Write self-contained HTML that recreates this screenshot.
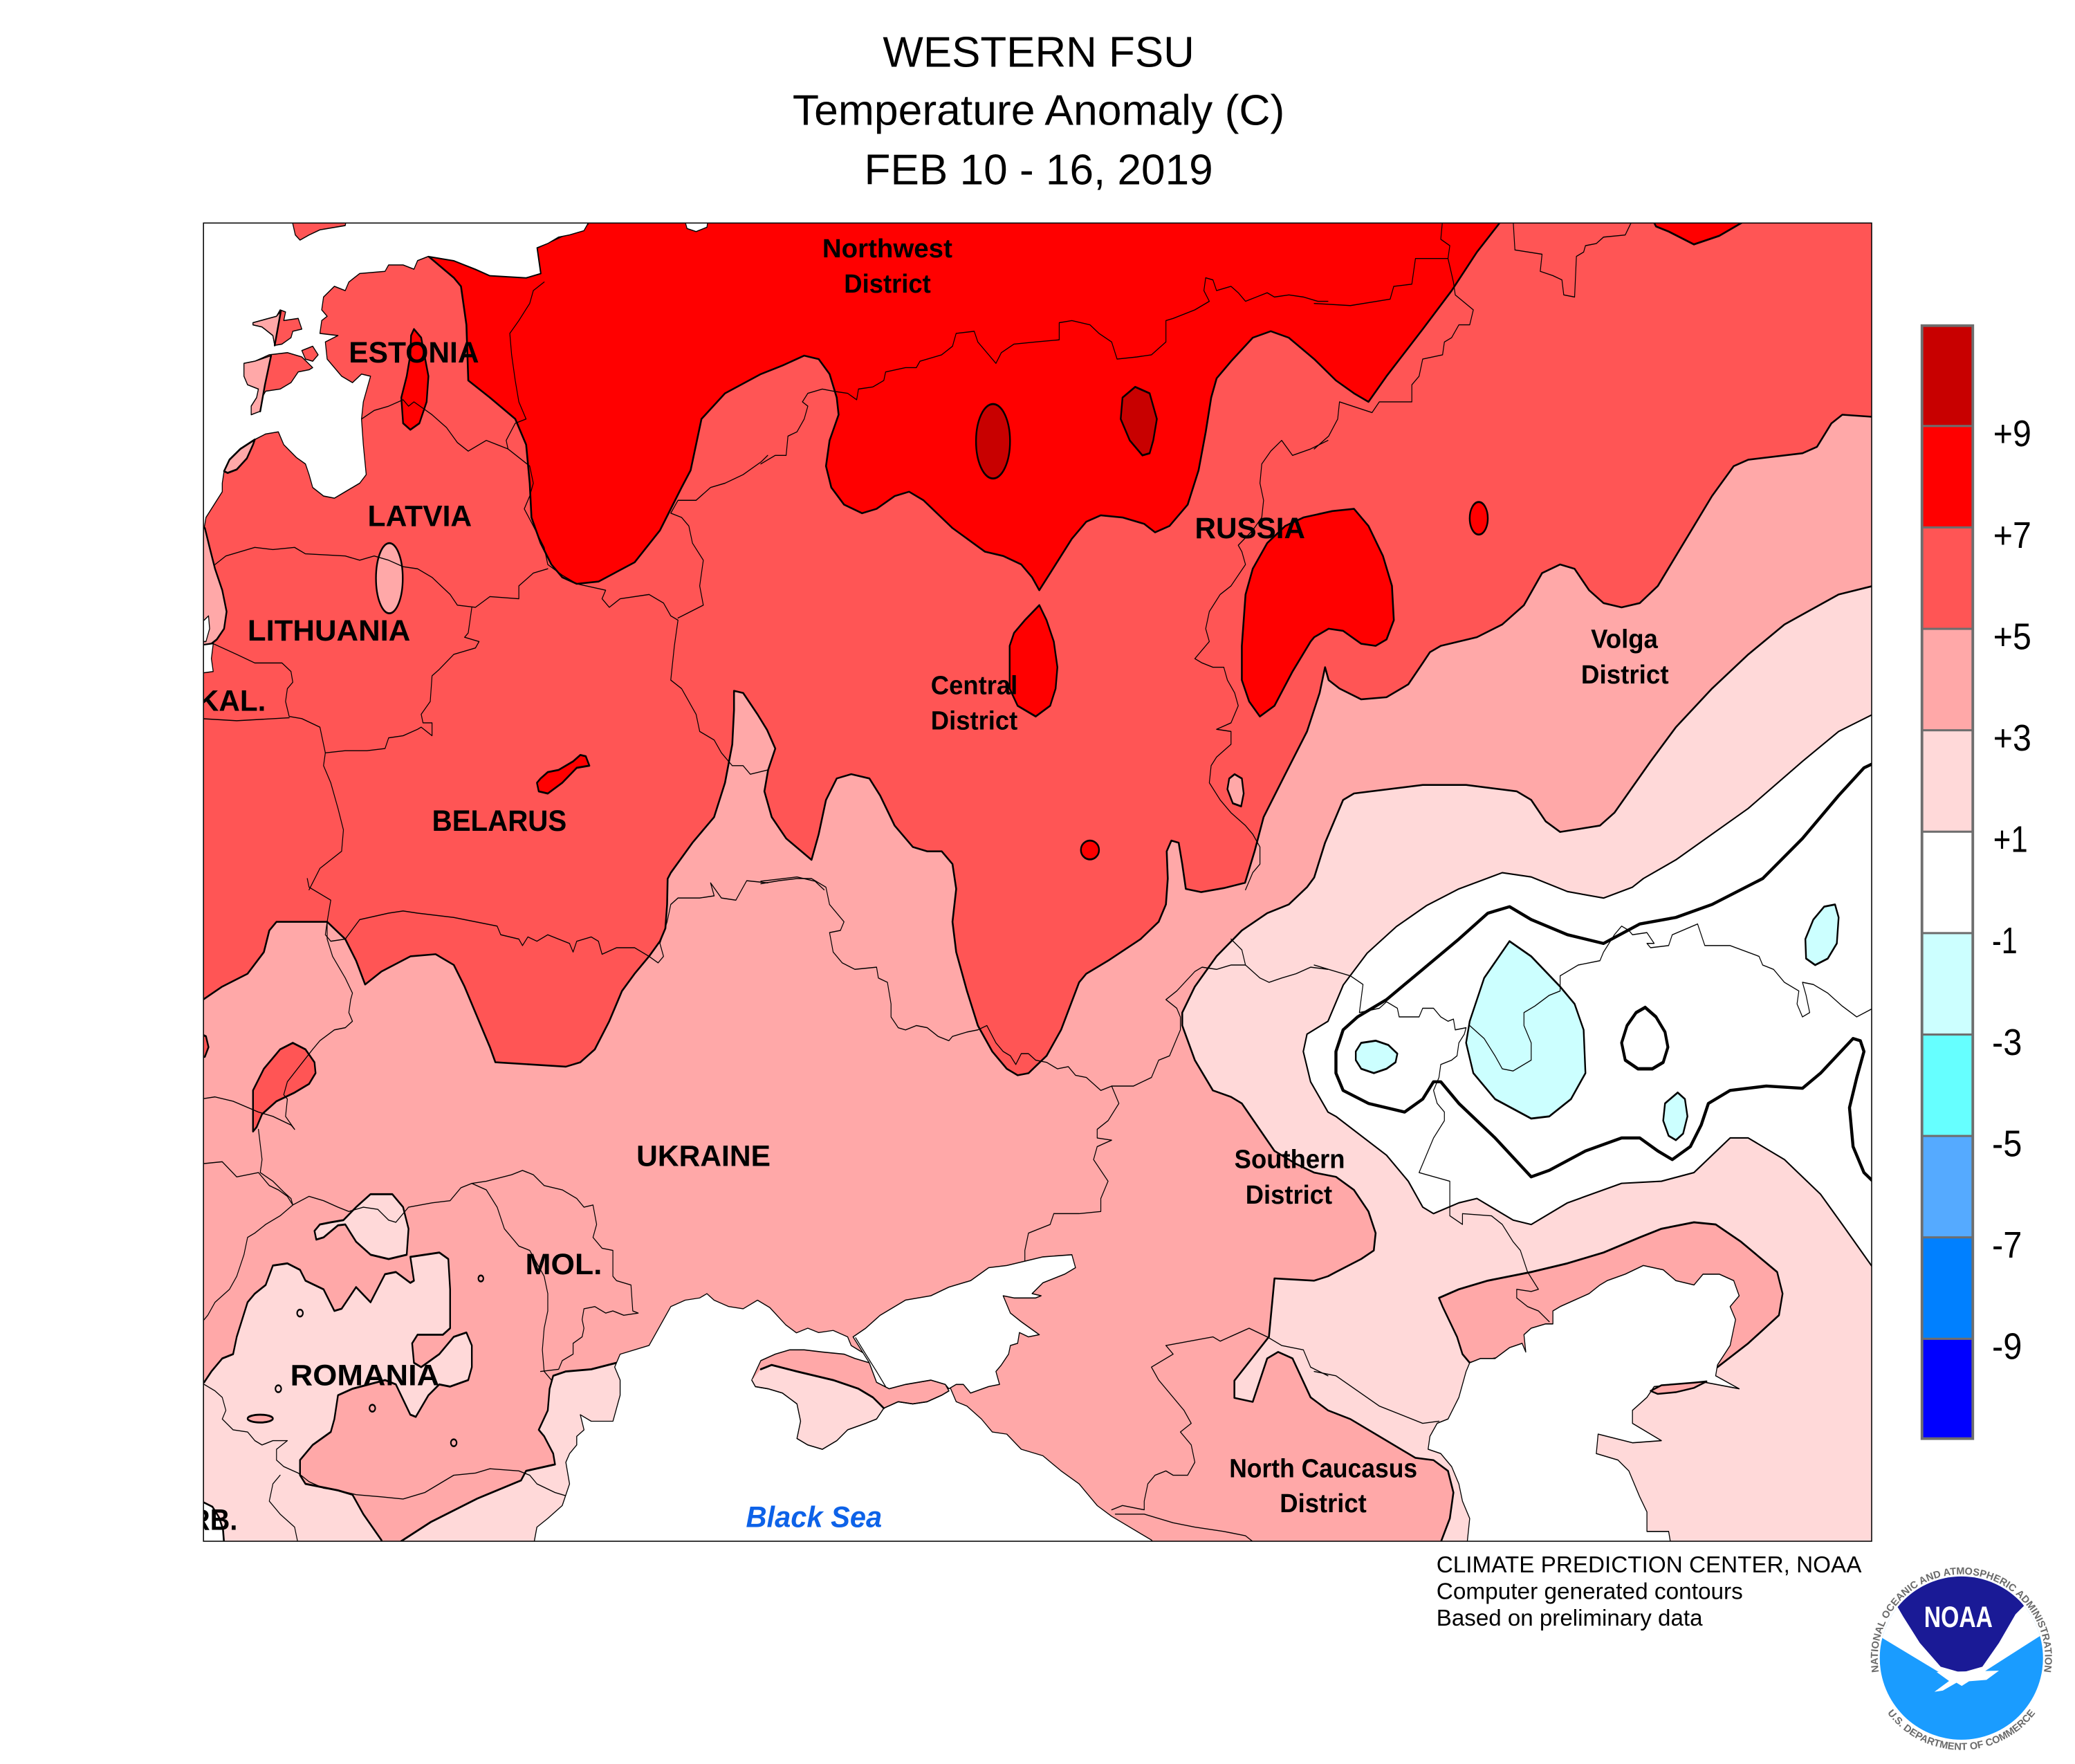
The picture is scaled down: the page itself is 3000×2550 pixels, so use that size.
<!DOCTYPE html>
<html><head><meta charset="utf-8"><title>WESTERN FSU Temperature Anomaly</title>
<style>
html,body{margin:0;padding:0;background:#fff;}
svg{display:block;}
text{font-family:"Liberation Sans",Arial,sans-serif;}
.lb{font-weight:bold;fill:#000;}
</style></head><body>
<svg xmlns="http://www.w3.org/2000/svg" width="3000" height="2550" viewBox="0 0 1563.3 1328.8" preserveAspectRatio="none">
<defs>
<clipPath id="mc"><rect x="153.3" y="168" width="1256.8" height="993"/></clipPath>
<clipPath id="disc"><circle cx="1477.7" cy="1249" r="61.5"/></clipPath>
<path id="arcTop" d="M1418.5,1270.5 A63,63 0 1 1 1536.9,1270.5"/>
<path id="arcBot" d="M1415.7,1280.5 A69.8,69.8 0 0 0 1539.7,1280.5"/>
</defs>
<rect x="0" y="0" width="1563.3" height="1328.8" fill="#fff"/>

<!-- Title -->
<g font-size="32.2" text-anchor="middle" fill="#000">
<text x="782.5" y="50.4" textLength="234.7" lengthAdjust="spacingAndGlyphs">WESTERN FSU</text>
<text x="782.5" y="94" textLength="370.7" lengthAdjust="spacingAndGlyphs">Temperature Anomaly (C)</text>
<text x="782.5" y="138.8" textLength="262.7" lengthAdjust="spacingAndGlyphs">FEB 10 - 16, 2019</text>
</g>

<g clip-path="url(#mc)" stroke-linejoin="round" stroke-linecap="round">
<!-- base 3-5 -->
<rect x="150" y="160" width="1270" height="1010" fill="#ffa8a8"/>

<!-- 5-7 region -->
<path fill="#ff5555" stroke="#000" stroke-width="1.35" d="M153,753 L167.4,743.2 L186.5,733.5 L198.8,717.2 L202.9,700.9 L208.3,694.4 L246.5,694.4 L260.1,707.4 L268.3,723.7 L275.1,741.6 L287.4,731.8 L309.2,720.4 L328.2,718.8 L341.9,726.9 L350,743.2 L358.2,762.8 L369.1,788.8 L373.2,800.2 L426.3,803.5 L437.2,800.2 L448.1,790.5 L459,769.3 L468.6,746.5 L478.1,733.5 L489,720.4 L497.2,709 L501.3,699.3 L502.6,681.3 L503,662 L505.4,657.4 L521.7,634.8 L538,615.5 L546.2,589.7 L551.7,560.7 L553,534.9 L553,520.4 L559.9,522 L570.7,538.1 L578,550 L584.1,563.9 L578.7,580 L575.9,596.1 L581.4,615.5 L592.3,631.6 L611.4,647.7 L616.8,628.4 L622.3,602.6 L630.4,586.4 L641.3,583.2 L655,586.4 L663.1,599.3 L674,621.9 L687.7,638 L698.5,641.3 L709.5,641.3 L717.6,650.9 L720.4,669.6 L717.6,694.4 L720.4,717.2 L728.5,746.5 L736.7,772.5 L747.6,792.1 L758.5,805.1 L766.7,810 L774.9,808.4 L788.5,795.3 L799.4,775.8 L813,740 L818.4,733.5 L834.8,723.7 L859.3,707.4 L872.9,694.4 L878.4,681.3 L879.8,661.8 L879,641.3 L882.5,633.2 L888,634.8 L890.7,650.9 L893.4,669.6 L905,672 L922,669 L938,665 L945.2,641.3 L952,615.5 L968.3,583.2 L984.7,551 L994.2,522 L998.3,502.6 L1001,512.3 L1009.2,518.7 L1025.5,526.8 L1044.6,525.2 L1061,515.5 L1071.9,499.4 L1077.3,491.3 L1085.5,486.5 L1112.7,480 L1131.8,470.4 L1148.1,455.9 L1161.8,431.7 L1175.4,425.2 L1186.3,428.5 L1197.2,444.6 L1208.1,454.3 L1221.7,457.5 L1235.4,454.3 L1249,441.4 L1262.6,418.8 L1289.8,373.7 L1306.2,351.1 L1317.1,346.3 L1358,341.4 L1368.9,336.6 L1379.8,318.9 L1388,312.4 L1411,314 L1418,314 L1418,162 L148,162 L148,753 Z"/>

<!-- 7-9 main -->
<path fill="#ff0000" stroke="#000" stroke-width="1.35" d="M442.7,162 L1133,162 L1129.1,168.9 L1112.7,189.9 L1093.7,218.9 L1071.9,247.9 L1044.6,283.4 L1031,302.7 L1020.1,296.3 L1006.5,286.6 L990.1,270.5 L971,254.4 L957.4,249.5 L943.8,254.4 L927.5,272.1 L916.6,285 L912.5,299.5 L908.4,325.3 L903,354.3 L894.8,380.1 L881.1,396.2 L870.2,401 L862,394.6 L845.7,389.8 L829.3,388.2 L818.4,393 L807.5,405.9 L791.2,431.7 L783,444.6 L777.6,434.9 L769.4,425.2 L755.8,418.8 L742.1,415.6 L717.6,397.8 L695.8,376.9 L684.9,370.4 L674,373.7 L660.4,383.3 L649.5,386.6 L635.9,380.1 L626.3,367.2 L622.3,351.1 L625,331.8 L631.8,312.4 L630.4,299.5 L625,281.8 L616.8,270.5 L605.9,267.9 L589.6,275.3 L573.2,281.8 L546.2,296.3 L528.5,315.6 L520.3,354.3 L513.5,367.2 L497.2,399.5 L478.1,423.6 L450.9,438.1 L434.5,439.8 L423.6,434.9 L415.4,425.2 L407.3,409.1 L400.4,389.8 L399.1,364 L396.4,335 L388.2,315.6 L369.1,299.5 L352.8,286.6 L351.4,244.7 L347.3,215.7 L341.9,209.2 L322.8,193.1 L341.9,196.3 L358.2,202.8 L369.1,207.6 L396.4,209.2 L407.3,206 L404.5,186.7 L442.7,168.9 Z"/>

<!-- 7-9 RUSSIA blob -->
<path fill="#ff0000" stroke="#000" stroke-width="1.35" d="M1020.1,383.3 L1031,396.2 L1041.9,418.8 L1048.7,441.4 L1050.1,467.2 L1044.6,481.7 L1036.4,486.5 L1025.5,484.9 L1011.9,475.2 L1001,473.6 L990.1,480 L987.4,483.3 L973.8,505.8 L960.2,531.6 L949.2,539.7 L941.1,528.4 L935.6,512.3 L935.6,486.5 L938.4,447.8 L943.8,428.5 L954.7,409.1 L968.3,396.2 L982,389.8 L1003.7,385 Z"/>

<!-- tile 4 blobs -->
<g transform="translate(573.2,164.1) scale(0.2725,0.3224)" stroke="#000" stroke-width="4.6">
<path fill="#ff0000" d="M770,905 L790,940 L810,990 L820,1050 L815,1100 L800,1140 L760,1165 L710,1140 L688,1100 L688,1000 L700,970 L730,940 Z"/>
<ellipse cx="910" cy="1477" rx="25" ry="22" fill="#ff0000"/>
<ellipse cx="642" cy="522" rx="47" ry="87" fill="#c80000"/>
<path fill="#c80000" d="M1035,395 L1075,410 L1095,470 L1085,520 L1075,550 L1055,555 L1020,520 L995,470 L1000,420 Z"/>
<path fill="#ffa8a8" d="M1310,1300 L1330,1310 L1335,1345 L1328,1375 L1305,1368 L1290,1335 L1295,1310 Z"/>
</g>
<!-- tile 5 blobs -->
<g transform="translate(990.1,164.1) scale(0.2725,0.3224)" stroke="#000" stroke-width="4.6">
<ellipse cx="455" cy="702" rx="25" ry="38" fill="#ff0000"/>
<path fill="#ff0000" d="M930,-5 L945,20 L980,32 L1050,62 L1120,42 L1185,10 L1195,-5 Z"/>
</g>
<!-- tile 3 blobs -->
<g transform="translate(151.1,164.1) scale(0.2725,0.3224)" stroke="#000" stroke-width="4.6">
<path fill="#ff0000" d="M590,260 L610,280 L630,370 L625,430 L605,480 L580,495 L560,480 L555,420 L570,370 L580,320 L582,275 Z"/>
<path fill="#ff0000" d="M940,1310 L960,1295 L990,1290 L1030,1270 L1050,1255 L1065,1258 L1075,1280 L1040,1285 L1000,1320 L960,1345 L935,1340 L930,1320 Z"/>
<ellipse cx="522" cy="842" rx="37" ry="82" fill="#ffa8a8"/>
<path fill="#ffa8a8" d="M-5,715 L12,725 L25,770 L40,820 L60,870 L72,920 L65,960 L45,985 L30,995 L-5,1000 Z"/>
</g>

<!-- SE light pink (1-3) -->
<path fill="#ffd9d9" stroke="#000" stroke-width="1.35" d="M1418,441.4 L1411,441.4 L1385.2,447.8 L1344.4,470.4 L1317.1,493 L1289.8,518.7 L1262.6,547.8 L1243.5,573.6 L1216.3,612.2 L1205.4,621.9 L1175.4,626.7 L1164.5,618.7 L1153.6,602.6 L1142.7,596.1 L1104.6,591.3 L1071.9,591.3 L1020.1,597.7 L1011.9,602.6 L998.3,634.8 L990.1,661 L984.7,668.3 L971,681.3 L954.7,687.9 L935.6,700.9 L916.5,720.4 L900.2,743.2 L890.7,762.8 L890.7,772.5 L900.2,798.6 L913.8,821.4 L927.5,826.3 L935.6,831.2 L960.2,867 L976.5,876.8 L990.1,883.3 L1006.5,886.5 L1020,896.3 L1031,912.6 L1036.4,928.9 L1035,942 L1025.5,948.4 L1006.5,958.2 L1000.5,961.4 L990.1,964.7 L960.2,963 L956,1007 L930,1040 L930,1053 L943.8,1056 L954.7,1023.3 L962.9,1018.4 L973.8,1023.3 L987.4,1052.6 L1000.5,1062.4 L1017.4,1069 L1039.2,1082 L1066.4,1098.2 L1080,1099.9 L1090.9,1108 L1095,1124.3 L1092.3,1143.8 L1085.5,1161.7 L1085,1168 L1418,1168 Z"/>

<!-- white (-1..+1) region -->
<path fill="#ffffff" stroke="#000" stroke-width="1.1" d="M1418,536 L1411,538.1 L1385.2,551 L1358,573.5 L1317.1,609 L1262.6,647.7 L1238.1,661.8 L1229.9,668.3 L1208.1,676.5 L1180.9,671.6 L1153.6,660.6 L1131.8,657.4 L1099.1,669.6 L1075,682 L1052,698 L1030,718 L1012,742 L1000.5,769.3 L984.7,779 L981.9,792.1 L987.4,814.9 L1000.5,837.7 L1006.5,841 L1044.6,870.2 L1061,889.8 L1071.9,909.3 L1080,914.2 L1099.1,906.1 L1112.7,902.8 L1140,919.1 L1153.6,922.4 L1180.9,906.1 L1221.7,891.4 L1251.7,889.8 L1276.2,883.3 L1303.5,857.2 L1317.1,857.2 L1344.4,873.5 L1371.6,899.6 L1388,922.4 L1411,954.9 L1418,958 Z"/>

<!-- zero contour thick -->
<path fill="none" stroke="#000" stroke-width="2.3" d="M1418,572 L1411,575.2 L1404.3,578.4 L1385.2,599.3 L1358,631.6 L1328,661.8 L1289.9,681.3 L1262.6,691.1 L1235.4,696 L1208.1,710.7 L1180.9,704.1 L1153.6,692.7 L1137.3,683 L1120.9,687.9 L1099.1,707.4 L1071.9,730.2 L1044.6,753 L1022.8,766 L1011.9,775.8 L1006.5,792.1 L1006.5,808.4 L1011.9,821.4 L1031,831.2 L1058.2,837.7 L1071.9,827.9 L1080,814.9 L1085.5,814.9 L1099.1,831.2 L1126.4,857.2 L1153.6,886.5 L1167.2,881.6 L1194.5,867 L1221.7,857.2 L1235.4,857.2 L1249,867 L1259.9,873.5 L1273.5,863.7 L1281.7,847.4 L1287.1,831.2 L1303.5,821.4 L1330.7,818.1 L1358,819.8 L1371.6,808.4 L1396.1,782.3 L1401.6,784 L1404.3,792.1 L1398.9,811.6 L1393.4,834.4 L1396.1,863.7 L1404.3,883.3 L1411,889.8 L1418,893"/>

<!-- tile 8: cyan blobs, loop, Kalmykia -->
<g transform="translate(990.1,661.8) scale(0.2725,0.3257)" stroke="#000">
<path fill="#ccffff" stroke-width="4.6" d="M115,400 L130,380 L170,375 L205,385 L230,405 L225,425 L200,440 L165,450 L130,440 L115,420 Z"/>
<path fill="#ccffff" stroke-width="4.6" d="M540,145 L600,180 L680,250 L720,290 L745,350 L750,450 L710,510 L650,550 L600,555 L500,510 L440,450 L420,380 L430,330 L470,230 Z"/>
<path fill="#ccffff" stroke-width="4.6" d="M1005,495 L1025,510 L1032,550 L1020,590 L1000,605 L980,595 L965,560 L970,520 Z"/>
<path fill="#ccffff" stroke-width="4.6" d="M1440,60 L1450,90 L1445,150 L1420,185 L1385,200 L1360,185 L1358,140 L1380,95 L1410,65 Z"/>
<path fill="none" stroke-width="7.8" d="M915,298 L945,320 L970,355 L978,390 L965,425 L935,440 L895,440 L860,420 L850,380 L865,340 L890,310 Z"/>
<path fill="#ffa8a8" stroke-width="4.6" d="M430,1120 L410,1100 L395,1060 L375,1025 L355,990 L345,970 L400,950 L480,930 L600,910 L700,890 L800,865 L900,830 L960,810 L1050,795 L1110,800 L1180,840 L1280,910 L1295,960 L1285,1010 L1200,1075 L1115,1130 L1000,1120 L700,1100 L500,1110 Z"/>
</g>

<!-- tile 6: Romania etc -->
<g transform="translate(151.1,661.8) scale(0.2725,0.3257)" stroke="#000" stroke-width="4.6">
<path fill="#ffd9d9" d="M-10,1165 L10,1165 L30,1140 L60,1110 L90,1100 L100,1060 L130,980 L150,960 L180,940 L200,895 L240,890 L275,905 L290,930 L340,950 L370,1000 L390,995 L430,945 L470,980 L510,915 L540,910 L580,935 L590,930 L580,875 L660,865 L685,880 L690,950 L690,1040 L670,1055 L600,1055 L585,1075 L590,1120 L610,1130 L660,1100 L700,1060 L735,1050 L750,1080 L750,1130 L740,1160 L690,1175 L660,1170 L630,1195 L595,1245 L580,1240 L540,1170 L510,1160 L420,1180 L380,1195 L370,1250 L360,1280 L310,1310 L275,1345 L275,1380 L290,1400 L380,1415 L420,1425 L450,1470 L500,1530 L512,1560 L-10,1560 Z"/>
<path fill="#ffd9d9" d="M550,1560 L554,1533 L637,1488 L765,1434 L886,1392 L900,1370 L980,1355 L975,1330 L950,1290 L935,1275 L960,1230 L965,1180 L975,1150 L1010,1140 L1080,1135 L1150,1120 L1200,1100 L1240,1085 L1300,1060 L1300,1560 Z"/>
<path fill="#ffd9d9" d="M320,835 L315,815 L330,800 L360,795 L395,790 L430,760 L470,730 L530,730 L560,760 L575,810 L570,870 L520,880 L470,870 L430,840 L400,800 L380,802 L340,830 Z"/>
<ellipse cx="165" cy="1249" rx="35" ry="9" fill="#ffa8a8"/>
<g fill="none" stroke-width="4"><circle cx="275" cy="1005" r="8"/><circle cx="215" cy="1180" r="8"/><circle cx="475" cy="1225" r="8"/><circle cx="700" cy="1305" r="8"/><circle cx="775" cy="925" r="7"/></g>
<path fill="#ff5555" d="M145,585 L145,490 L175,440 L220,395 L255,380 L290,395 L315,425 L318,450 L300,475 L260,495 L210,515 L170,545 L155,575 Z"/>
<path fill="#ff5555" d="M-10,355 L15,365 L22,390 L12,412 L-10,415 Z"/>
</g>
<!-- white corner bottom-left -->
<path fill="#fff" stroke="#000" stroke-width="1.35" d="M150,1130 L160,1135 L165,1143 L168,1152 L169,1165 L150,1165 Z"/>

<!-- borders -->
<g fill="none" stroke="#000">
<g transform="translate(151.1,164.1) scale(0.2725,0.3224)" stroke-width="2.3">
<polyline points="445,470 480,450 520,440 560,425 575,440 590,430 640,460 680,490 710,525 740,545 790,520 820,530 850,540"/>
<polyline points="950,150 920,170 910,200 880,240 855,270 860,320 870,380 880,430 900,470 870,480 845,520 850,540 910,580 920,620 910,650 895,680 920,720 950,770 960,810 1000,835 1040,855 1120,870 1110,890 1130,910 1160,890 1240,880 1280,900 1300,930 1320,940 1310,1000 1300,1080 1330,1100 1350,1130 1370,1160 1380,1200 1420,1220 1440,1250 1470,1280 1500,1280 1520,1300 1568,1290"/>
<polyline points="40,810 70,790 150,770 200,775 260,770 290,785 400,790 440,800 480,790 520,800 560,815 600,820 640,840 690,880 710,905 760,910 800,885 880,890 880,860 920,830 960,820"/>
<polyline points="750,910 740,970 730,980 770,990 760,1005 700,1020 660,1055 640,1070 635,1130 610,1160 615,1180 640,1180 640,1210 610,1190 600,1195 560,1210 520,1215 510,1240 460,1245 400,1245 345,1250"/>
<polyline points="35,995 100,1020 150,1040 225,1040 250,1060 255,1085 240,1100 235,1130 245,1165 280,1170 330,1190 340,1230 345,1250"/>
<polyline points="0,1170 100,1175 245,1168"/>
<polyline points="345,1250 340,1280 360,1320 380,1380 395,1430 390,1480 330,1520 300,1570"/>
<polyline points="1568,555 1550,570 1500,600 1450,620 1410,630 1370,660 1320,660 1300,690 1330,700 1350,720 1360,760 1390,800 1380,860 1390,905 1320,935"/>
</g>
<g transform="translate(573.2,164.1) scale(0.2725,0.3224)" stroke-width="2.3">
<polyline points="0,575 40,555 70,555 75,510 100,500 120,470 130,440 115,430 130,410 170,400 200,405 240,410 265,425 270,400 310,395 340,380 345,360 400,350 430,350 440,335 500,320 530,300 540,270 590,265 600,290 650,340 665,315 700,295 760,290 825,285 825,245 860,240 910,250 935,270 970,290 985,330 1040,325 1080,320 1120,290 1120,240 1140,235 1200,215 1240,195 1225,170 1230,140 1250,145 1260,170 1300,160 1320,175 1340,195 1370,185 1400,175 1420,185 1460,180 1500,185 1540,195 1568,195"/>
<polyline points="1568,520 1520,540 1470,555 1440,520 1410,545 1385,575 1380,620 1390,660 1385,700 1360,730 1320,765 1330,780 1340,810 1300,860 1270,880 1240,920 1230,960 1240,990 1220,1010 1200,1030 1220,1040 1250,1050 1280,1050 1290,1080 1310,1110 1320,1140 1300,1180 1260,1195 1300,1200 1300,1230 1260,1260 1245,1280 1240,1320 1270,1360 1300,1390 1340,1420 1360,1440 1380,1470 1380,1510 1360,1530 1340,1570"/>
<polyline points="0,1550 50,1545 100,1540 150,1550 175,1570"/>
</g>
<g transform="translate(990.1,164.1) scale(0.2725,0.3224)" stroke-width="2.3">
<polyline points="0,200 100,205 210,190 220,160 270,155 280,95 370,95 375,65 350,50 355,5"/>
<polyline points="370,95 385,150 390,180 440,215 430,250 400,250 380,280 360,290 355,320 300,330 290,370 270,390 270,430 180,430 160,455 70,430 65,470 40,510 0,540"/>
<polyline points="550,5 555,75 630,85 625,125 660,135 685,145 690,180 720,185 725,90 745,80 750,65 780,60 800,45 860,40 880,5"/>
</g>
<g transform="translate(151.1,661.8) scale(0.2725,0.3257)" stroke-width="2.3">
<polyline points="350,100 345,130 360,145 400,140 440,95 520,80 560,75 600,80 700,90 760,100 820,110 830,130 880,140 890,155 905,135 930,145 960,130 990,140 1020,150 1030,170 1040,145 1080,135 1100,145 1110,175 1150,160 1200,160 1240,180 1265,195 1280,180 1270,150 1290,100 1300,60 1320,45 1380,45 1420,40 1410,10 1440,45 1480,50 1500,20 1510,5 1568,10"/>
<polyline points="295,0 300,20 360,50 350,100 350,140 365,180 400,230 420,265 415,280 410,310 420,330 400,345 370,350 330,375 310,395 240,470 230,500 240,510 235,550 260,580"/>
<polyline points="0,510 40,505 90,515 160,540 200,550 250,570 260,580"/>
<polyline points="160,580 170,650 165,680 200,700 230,725 250,740 255,755 300,735 340,745 380,760 410,770 450,760 490,765 520,790 540,795 575,760 640,750 690,745 720,715 750,705 790,700 860,685 890,675 920,685 950,710 1000,720 1040,740 1060,760 1085,755 1095,800 1085,830 1110,855 1140,860 1140,920 1150,930 1190,940 1195,1000 1210,1005 1170,1010 1140,1000 1120,1005 1090,990 1060,995 1055,1020 1060,1040 1055,1060 1030,1075 1030,1100 1000,1115 990,1135 940,1140"/>
<polyline points="750,705 790,720 820,760 840,810 880,850 910,860 950,920 960,960 960,1000 950,1040 945,1090 950,1140 970,1160"/>
<polyline points="0,660 60,655 100,690 160,680 190,710 215,720 240,735 255,755 220,780 180,800 150,820 130,830 120,870 100,920 80,950 40,980 20,1010 0,1030"/>
<polyline points="0,1165 40,1185 60,1200 70,1230 60,1250 90,1275 130,1280 150,1300 170,1310 200,1300 240,1300 210,1320 210,1345 230,1360 270,1375 300,1395 340,1410 380,1415 430,1425 500,1430 560,1435 620,1420 660,1400 700,1380 760,1375 800,1365 880,1370 910,1380 930,1400 980,1420 1020,1430"/>
<polyline points="220,1380 200,1400 190,1440 220,1470 260,1500 270,1540"/>
</g>
<g transform="translate(573.2,661.8) scale(0.2725,0.3257)" stroke-width="2.3">
<polyline points="0,12 50,5 100,0 140,0 180,20 190,60 230,100 220,120 190,125 200,170 225,195 260,210 320,205 325,230 350,240 360,290 360,320 380,345 400,350 430,340 460,345 490,365 520,375 530,365 570,355 600,350 625,340 650,380 670,400 690,410 705,430 720,405 740,405 760,420 790,425 820,440 850,435 870,455 900,460 940,490 970,480 1030,480 1080,460 1100,420 1130,410 1145,380 1160,350 1160,320 1150,300 1120,280 1150,260 1200,215 1220,205 1260,210 1300,200 1340,200 1380,230 1405,240 1440,230 1480,220 1520,205 1568,210"/>
<polyline points="1300,140 1330,165 1340,200"/>
<polyline points="970,480 990,520 960,560 930,580 930,600 970,605 930,620 920,650 960,700 940,740 940,770 880,775 810,775 800,800 740,820 730,860 730,890"/>
<polyline points="1120,1080 1250,1060 1270,1070 1350,1040 1400,1060 1440,1080 1500,1090 1520,1130 1568,1150"/>
<polyline points="1120,1080 1140,1100 1080,1130 1100,1160 1140,1200 1170,1230 1190,1260 1160,1280 1190,1310 1200,1350 1180,1380 1140,1380 1120,1370 1090,1380 1070,1400 1060,1440 1060,1460 1000,1450 970,1460"/>
<polyline points="980,1470 1060,1470 1100,1480 1140,1490 1200,1500 1280,1510 1340,1520 1370,1540"/>
</g>
<g transform="translate(990.1,661.8) scale(0.2725,0.3257)" stroke-width="2.3">
<polyline points="0,200 40,210 100,225 135,245 125,310 180,300 200,285 230,300 235,320 290,320 300,300 330,300 350,320 370,330 385,325 390,350 420,345 415,360 400,380 395,410 380,420 350,430 345,460 330,490 340,520 360,540 360,560 330,600 290,680 375,700 375,780 410,800 410,775 490,780 520,800 550,840 570,860 590,910 620,950 600,955 560,950 560,970 590,990 620,1000 650,1025"/>
<polyline points="680,225 730,200 790,190 800,170 830,130 850,110 870,120 880,130 920,125 940,150 920,150 930,160 980,155 990,130 1060,105 1080,155 1150,155 1230,180 1240,200 1270,210 1300,240 1340,260 1335,290 1350,320 1370,310 1360,270 1350,240 1380,245 1420,265 1460,295 1500,320 1545,300"/>
<polyline points="430,340 470,370 500,410 520,440 550,445 600,420 600,380 580,340 580,310 610,295 650,270 680,260 680,225"/>
<polyline points="0,1140 60,1150 180,1220 300,1260 345,1255"/>
</g>
</g>

<!-- Baltic sea and islands -->
<g transform="translate(151.1,164.1) scale(0.2725,0.3224)" stroke="#000">
<path fill="#fff" stroke-width="2.5" d="M-10,-5 L1075,-5 L1070,15 L1060,30 L1020,40 L990,45 L960,60 L930,70 L940,130 L900,140 L800,135 L760,120 L700,100 L630,90 L600,100 L590,120 L560,110 L520,110 L510,125 L440,130 L410,150 L400,170 L370,160 L340,185 L335,215 L350,230 L335,240 L330,270 L380,275 L345,290 L350,330 L390,370 L420,385 L445,365 L470,370 L460,400 L450,430 L445,470 L450,530 L458,600 L440,620 L400,640 L370,655 L340,650 L310,630 L300,600 L290,575 L265,560 L230,530 L215,500 L180,505 L150,518 L110,540 L80,565 L65,592 L60,620 L60,640 L30,680 L15,700 L10,725 L-10,725 Z"/>
<path fill="#fff" stroke-width="2.5" d="M-10,940 L10,940 L22,930 L25,960 L15,990 L-10,990 Z"/>
<path fill="#fff" stroke-width="2.5" d="M-10,1000 L35,995 L30,1030 L35,1060 L-10,1065 Z"/>
<path fill="#fff" stroke-width="2.5" d="M1335,-5 L1345,25 L1370,32 L1400,22 L1405,-5 Z"/>
<path fill="#ffa8a8" stroke-width="4.6" d="M150,518 L110,540 L80,565 L65,592 L75,596 L100,588 L128,562 L145,530 Z"/>
<path fill="#ff5555" stroke-width="2.5" d="M145,245 L210,230 L220,215 L235,220 L230,240 L270,235 L280,260 L255,265 L250,280 L225,295 L205,298 L200,275 L170,255 L145,250 Z"/>
<path fill="#ffa8a8" stroke-width="2.5" d="M145,245 L210,230 L222,218 L205,298 L200,275 L170,255 L145,250 Z"/>
<path fill="none" stroke-width="4.6" d="M222,218 L205,298"/>
<path fill="#ff5555" stroke-width="2.5" d="M120,340 L150,335 L190,320 L240,315 L280,325 L310,350 L300,355 L270,360 L250,385 L220,400 L180,405 L170,420 L165,450 L140,460 L140,440 L155,420 L160,400 L130,390 L120,370 Z"/>
<path fill="#ffa8a8" stroke-width="2.5" d="M120,340 L150,335 L195,322 L178,390 L165,452 L140,460 L140,440 L155,420 L160,400 L130,390 L120,370 Z"/>
<path fill="none" stroke-width="4.6" d="M195,322 L178,390 L165,452"/>
<path fill="#ff5555" stroke-width="2.5" d="M280,310 L310,300 L325,320 L310,335 L290,330 Z"/>
<path fill="#ff5555" stroke-width="2.5" d="M250,-5 L262,40 L275,52 L300,40 L330,28 L400,18 L405,-5 Z"/>
</g>

<!-- Black Sea -->
<path fill="#fff" stroke="#000" stroke-width="0.7" d="M401.8,1170 L401.8,1165 L404.5,1150.4 L412.7,1143.8 L423.6,1134.1 L429.1,1117.8 L426.3,1101.5 L429.1,1095 L434.5,1088.5 L434.5,1082 L440,1077.1 L437.2,1065.7 L445.4,1070.6 L461.8,1070.6 L467.2,1051 L467.2,1039.6 L463.1,1029.8 L467.2,1020.1 L489,1013.5 L505.4,984.2 L516.2,979.4 L527.2,977.7 L532.6,974.5 L538,979.4 L549,984.2 L559.9,985.9 L570.7,979.4 L580,985 L592,998 L600,1004 L608.6,1000.5 L616.8,1003.8 L627.7,1002.2 L638.6,1007 L641.3,1013.6 L660,1025 L700,1038 L714.9,1043 L720.4,1055.9 L728.5,1059.2 L739.4,1068.9 L747.6,1078.7 L758.5,1080.3 L769.4,1091.7 L785.7,1096.6 L799.4,1108 L813,1117.8 L826.6,1134.1 L837.5,1142.2 L845.7,1147.1 L867.5,1160.1 L875,1170 Z"/>

<!-- Crimea, Azov -->
<g transform="translate(573.2,661.8) scale(0.2725,0.3257)" stroke="#000">
<path fill="#ffa8a8" stroke-width="2.5" d="M-25,1160 L0,1115 L40,1100 L80,1090 L120,1090 L170,1095 L230,1100 L260,1110 L300,1120 L320,1165 L355,1180 L400,1170 L470,1160 L510,1170 L520,1185 L500,1195 L460,1210 L420,1215 L380,1210 L340,1225 L320,1250 L290,1260 L240,1275 L210,1300 L170,1320 L130,1310 L100,1295 L110,1255 L100,1215 L60,1190 L20,1180 L-15,1175 Z"/>
<path fill="#ffd9d9" stroke="none" d="M-25,1160 L0,1135 L30,1125 L100,1140 L200,1160 L270,1180 L310,1200 L340,1225 L320,1250 L290,1260 L240,1275 L210,1300 L170,1320 L130,1310 L100,1295 L110,1255 L100,1215 L60,1190 L20,1180 L-15,1175 Z"/>
<path fill="none" stroke-width="4.6" d="M0,1135 L30,1125 L100,1140 L200,1160 L270,1180 L310,1200 L340,1225"/>
<path fill="none" stroke-width="2.5" d="M-25,1160 L-15,1175 L20,1180 L60,1190 L100,1215 L110,1255 L100,1295 L130,1310 L170,1320 L210,1300 L240,1275 L290,1260 L320,1250 L340,1225 L380,1210 L420,1215 L460,1210 L500,1195 L520,1185"/>
<path fill="#fff" stroke-width="2.5" d="M330,1010 L400,975 L470,965 L520,945 L580,930 L630,900 L680,895 L780,875 L860,870 L870,900 L840,915 L780,935 L750,960 L775,965 L760,970 L700,970 L670,965 L690,1005 L720,1025 L770,1055 L740,1060 L715,1050 L710,1075 L690,1080 L685,1100 L665,1125 L650,1140 L660,1170 L630,1175 L580,1190 L560,1170 L540,1170 L520,1180 L510,1170 L470,1160 L400,1170 L355,1180 L320,1165 L300,1120 L270,1080 L255,1060 L290,1040 Z"/>
<path fill="none" stroke-width="2.3" d="M262,1062 L290,1100 L320,1140 L345,1175"/>
</g>

<!-- Caspian -->
<g transform="translate(990.1,661.8) scale(0.2725,0.3257)" stroke="#000">
<path fill="#fff" stroke-width="2.5" d="M420,1560 L430,1480 L410,1440 L400,1400 L380,1360 L350,1330 L315,1320 L320,1290 L340,1260 L370,1250 L400,1200 L420,1140 L430,1120 L460,1110 L500,1110 L540,1085 L575,1075 L585,1095 L580,1055 L600,1040 L640,1030 L660,1030 L660,1000 L680,990 L720,975 L760,960 L790,940 L810,930 L860,915 L910,895 L965,905 L1000,930 L1050,940 L1075,915 L1120,915 L1160,930 L1175,965 L1150,990 L1165,1020 L1150,1080 L1115,1125 L1110,1150 L1175,1180 L1080,1165 L1000,1170 L940,1175 L920,1200 L880,1230 L880,1260 L920,1280 L960,1300 L880,1305 L785,1285 L780,1330 L840,1345 L870,1370 L900,1430 L920,1465 L920,1510 L980,1510 L990,1560 Z"/>
<path fill="#ffa8a8" stroke-width="4" d="M930,1185 L960,1172 L1050,1166 L1085,1163 L1050,1178 L1000,1188 L950,1192 Z"/>
</g>

<!-- map labels -->
<g class="lb">
<text x="149" y="535.5" font-size="22" textLength="51.3" lengthAdjust="spacingAndGlyphs">KAL.</text>
<text x="143.4" y="1152.5" font-size="22" textLength="35.5" lengthAdjust="spacingAndGlyphs">RB.</text>
</g>
</g>

<!-- map frame -->
<rect x="153.3" y="168" width="1256.8" height="993" fill="none" stroke="#000" stroke-width="0.8"/>

<!-- labels -->
<g class="lb">
<text x="619.5" y="193.8" font-size="20" textLength="98" lengthAdjust="spacingAndGlyphs">Northwest</text>
<text x="635.9" y="220.5" font-size="20" textLength="65.4" lengthAdjust="spacingAndGlyphs">District</text>
<text x="262.8" y="273.1" font-size="22" textLength="98.1" lengthAdjust="spacingAndGlyphs">ESTONIA</text>
<text x="277" y="396.2" font-size="22" textLength="78.5" lengthAdjust="spacingAndGlyphs">LATVIA</text>
<text x="186.5" y="482.6" font-size="22" textLength="122.7" lengthAdjust="spacingAndGlyphs">LITHUANIA</text>
<text x="325.5" y="625.8" font-size="22" textLength="101.4" lengthAdjust="spacingAndGlyphs">BELARUS</text>
<text x="900.2" y="405.3" font-size="22" textLength="83.1" lengthAdjust="spacingAndGlyphs">RUSSIA</text>
<text x="701.3" y="522.9" font-size="20" textLength="65.4" lengthAdjust="spacingAndGlyphs">Central</text>
<text x="701.3" y="549.4" font-size="20" textLength="65.4" lengthAdjust="spacingAndGlyphs">District</text>
<text x="1198.6" y="488.1" font-size="20" textLength="50.4" lengthAdjust="spacingAndGlyphs">Volga</text>
<text x="1191.2" y="514.9" font-size="20" textLength="66" lengthAdjust="spacingAndGlyphs">District</text>
<text x="479.5" y="878.4" font-size="22" textLength="101" lengthAdjust="spacingAndGlyphs">UKRAINE</text>
<text x="395.8" y="959.8" font-size="22" textLength="57.8" lengthAdjust="spacingAndGlyphs">MOL.</text>
<text x="218.7" y="1043.5" font-size="22" textLength="112.3" lengthAdjust="spacingAndGlyphs">ROMANIA</text>
<text x="930" y="880" font-size="20" textLength="83.3" lengthAdjust="spacingAndGlyphs">Southern</text>
<text x="938.4" y="906.7" font-size="20" textLength="65.3" lengthAdjust="spacingAndGlyphs">District</text>
<text x="926.1" y="1112.9" font-size="20" textLength="141.7" lengthAdjust="spacingAndGlyphs">North Caucasus</text>
<text x="964.2" y="1139" font-size="20" textLength="65.4" lengthAdjust="spacingAndGlyphs">District</text>
<text x="562" y="1150.3" font-size="22" font-style="italic" fill="#0d62e8" textLength="102.5" lengthAdjust="spacingAndGlyphs">Black Sea</text>
</g>

<!-- legend -->
<rect x="1447" y="244.3" width="40.3" height="840.4" fill="#6e6e6e"/>
<g>
<rect x="1449" y="246.3" width="36.3" height="73.8" fill="#c80000"/>
<rect x="1449" y="321.7" width="36.3" height="74.8" fill="#ff0000"/>
<rect x="1449" y="398.1" width="36.3" height="74.8" fill="#ff5555"/>
<rect x="1449" y="474.5" width="36.3" height="74.8" fill="#ffa8a8"/>
<rect x="1449" y="550.9" width="36.3" height="74.8" fill="#ffd9d9"/>
<rect x="1449" y="627.3" width="36.3" height="74.8" fill="#ffffff"/>
<rect x="1449" y="703.7" width="36.3" height="74.8" fill="#ccffff"/>
<rect x="1449" y="780.1" width="36.3" height="74.8" fill="#66ffff"/>
<rect x="1449" y="856.5" width="36.3" height="74.8" fill="#55aaff"/>
<rect x="1449" y="932.9" width="36.3" height="74.8" fill="#0080ff"/>
<rect x="1449" y="1009.3" width="36.3" height="73.4" fill="#0000ff"/>
</g>
<g font-size="28" fill="#000">
<text x="1501.7" y="336.2" textLength="28.7" lengthAdjust="spacingAndGlyphs">+9</text>
<text x="1501.7" y="412.6" textLength="28.7" lengthAdjust="spacingAndGlyphs">+7</text>
<text x="1501.7" y="489" textLength="28.7" lengthAdjust="spacingAndGlyphs">+5</text>
<text x="1501.7" y="565.4" textLength="28.7" lengthAdjust="spacingAndGlyphs">+3</text>
<text x="1501.7" y="641.8" textLength="26" lengthAdjust="spacingAndGlyphs">+1</text>
<text x="1500.8" y="718.2" textLength="19.1" lengthAdjust="spacingAndGlyphs">-1</text>
<text x="1500.8" y="794.6" textLength="22.6" lengthAdjust="spacingAndGlyphs">-3</text>
<text x="1500.8" y="871" textLength="22.6" lengthAdjust="spacingAndGlyphs">-5</text>
<text x="1500.8" y="947.4" textLength="22.6" lengthAdjust="spacingAndGlyphs">-7</text>
<text x="1500.8" y="1023.8" textLength="22.6" lengthAdjust="spacingAndGlyphs">-9</text>
</g>

<!-- footer -->
<g font-size="17.2" fill="#000">
<text x="1082.2" y="1184.5" textLength="320.3" lengthAdjust="spacingAndGlyphs">CLIMATE PREDICTION CENTER, NOAA</text>
<text x="1082.2" y="1204.5" textLength="230.9" lengthAdjust="spacingAndGlyphs">Computer generated contours</text>
<text x="1082.2" y="1224.5" textLength="200.5" lengthAdjust="spacingAndGlyphs">Based on preliminary data</text>
</g>

<!-- NOAA logo -->
<g>
<circle cx="1477.7" cy="1248.5" r="73" fill="#fff"/>
<circle cx="1477.7" cy="1249" r="61.5" fill="#1a9cff"/>
<g clip-path="url(#disc)">
<path fill="#fff" d="M1405,1175 L1405,1226 L1478,1270 L1550,1224 L1550,1175 Z"/>
<path fill="#1a1a96" d="M1429.2,1209.7 L1440,1195 L1449.6,1188 L1477.8,1183 L1506,1188 L1516,1195 L1524.8,1209.7 L1518.5,1216 L1506,1237.6 L1493.5,1255.5 L1477.8,1260 L1462.1,1255.5 L1446.4,1237.6 L1433.9,1217.8 Z"/>
<path fill="#fff" d="M1459,1259.5 L1506,1258.5 L1496.6,1265.4 L1474.7,1267.2 L1463.7,1273.5 L1457.4,1274.4 L1468.4,1266.3 Z"/>
</g>
<text x="1449.6" y="1225.5" font-size="22" font-weight="bold" fill="#fff" textLength="51.7" lengthAdjust="spacingAndGlyphs">NOAA</text>
<text font-size="7.6" fill="#6a6a6a" font-weight="bold"><textPath href="#arcTop" startOffset="50%" text-anchor="middle">NATIONAL OCEANIC AND ATMOSPHERIC ADMINISTRATION</textPath></text>
<text font-size="7.6" fill="#6a6a6a" font-weight="bold"><textPath href="#arcBot" startOffset="50%" text-anchor="middle">U.S. DEPARTMENT OF COMMERCE</textPath></text>
</g>
</svg>
</body></html>
